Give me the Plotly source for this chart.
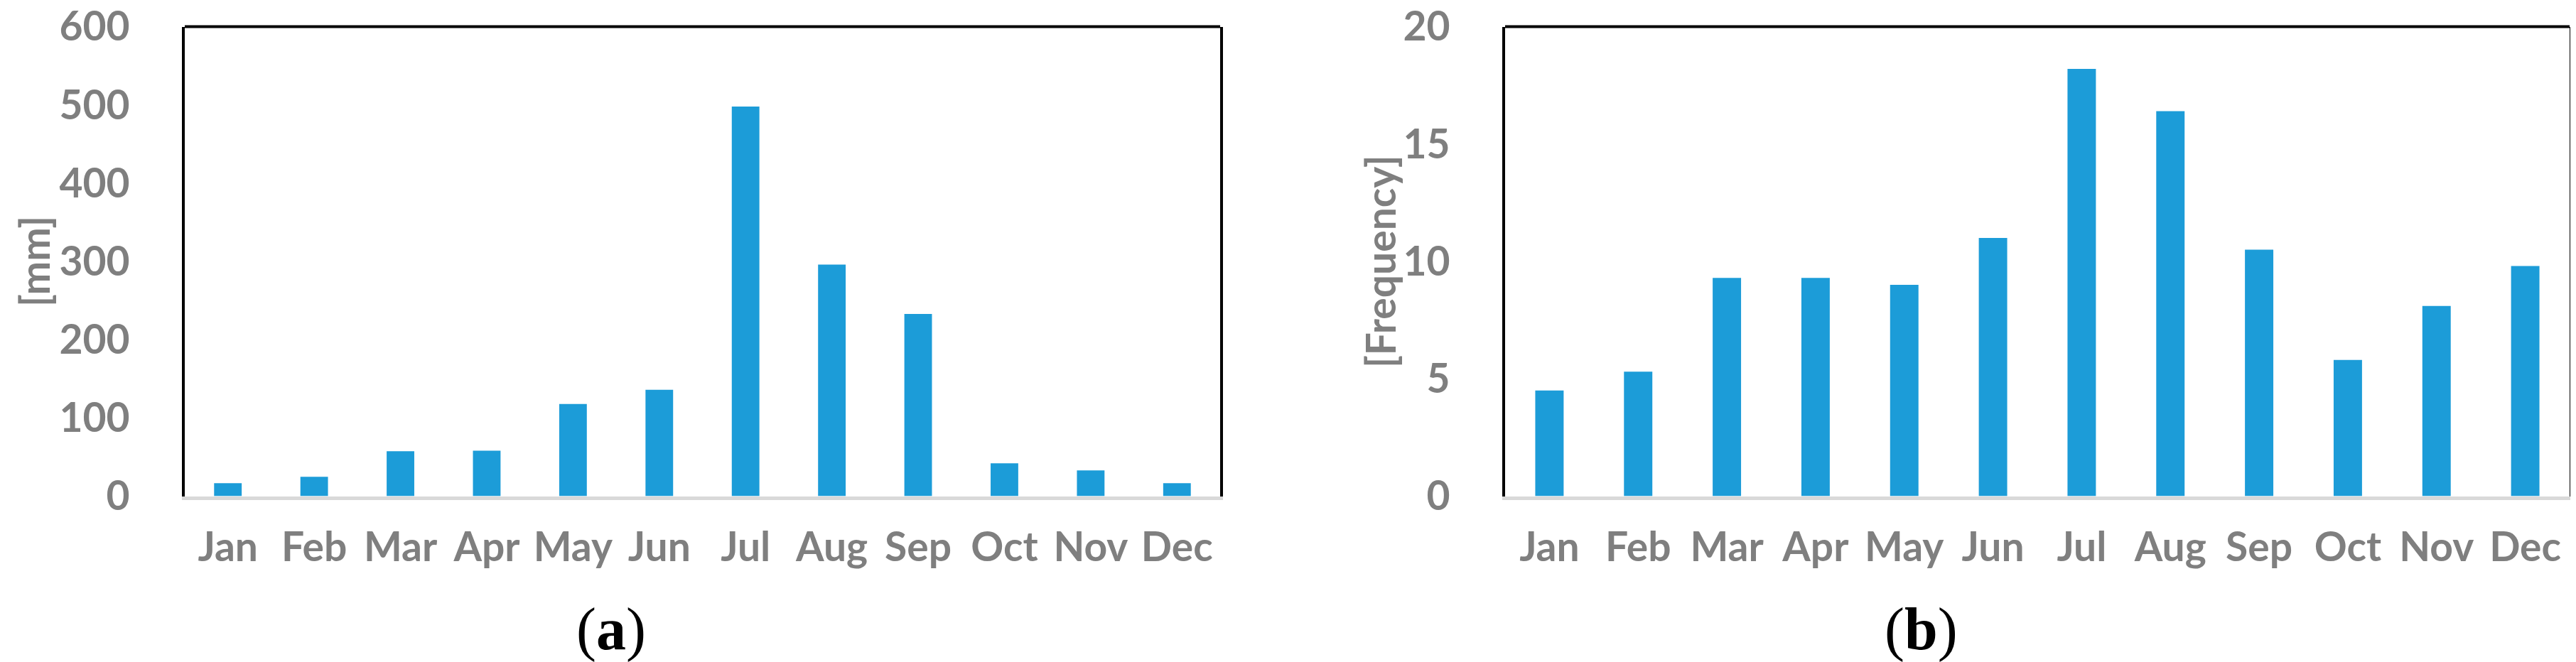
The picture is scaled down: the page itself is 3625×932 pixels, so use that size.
import plotly.graph_objects as go
from plotly.subplots import make_subplots

months = ['Jan', 'Feb', 'Mar', 'Apr', 'May', 'Jun', 'Jul', 'Aug', 'Sep', 'Oct', 'Nov', 'Dec']
rain_mm = [16.5, 24.7, 57.5, 58, 117.7, 136, 497.8, 296, 232.8, 41.9, 32.8, 16.5]
freq = [4.5, 5.3, 9.3, 9.3, 9.0, 11.0, 18.2, 16.4, 10.5, 5.8, 8.1, 9.8]

W, H = 3625, 932
bar_color = '#1C9CD8'
grey = '#7F7F7F'
tick_font = dict(family='Lato', size=57, color=grey, weight='bold')

fig = make_subplots(rows=1, cols=2)
fig.add_trace(go.Bar(x=months, y=rain_mm, marker_color=bar_color, marker_line_width=0), 1, 1)
fig.add_trace(go.Bar(x=months, y=freq, marker_color=bar_color, marker_line_width=0), 1, 2)

# plot areas (pixels), axis lines are drawn just outside them
y_dom = [1 - 690.5 / H, 1 - 29.5 / H]
fig.update_layout(
    width=W, height=H,
    margin=dict(l=0, r=0, t=0, b=0),
    paper_bgcolor='white', plot_bgcolor='white',
    showlegend=False, bargap=0.68,
    xaxis=dict(domain=[252 / W, 1709 / W]),
    xaxis2=dict(domain=[2110 / W, 3608 / W]),
    yaxis=dict(domain=y_dom, range=[0, 600], dtick=100),
    yaxis2=dict(domain=y_dom, range=[0, 20], dtick=5),
)
fig.update_xaxes(showline=True, linecolor='#D9D9D9', linewidth=5, showgrid=False,
                 ticks='', tickfont=tick_font, ticklabelstandoff=18, automargin=False)
fig.update_yaxes(showline=True, linecolor='black', linewidth=4, mirror=True, showgrid=False,
                 zeroline=False, ticks='', tickfont=tick_font, ticklabelstandoff=62,
                 ticklabeloverflow='allow', automargin=False)

# black top border of each panel
for xr, yr in [('x domain', 'y domain'), ('x2 domain', 'y2 domain')]:
    fig.add_shape(type='line', xref=xr, yref=yr, x0=0, x1=1, y0=1, y1=1,
                  line=dict(color='black', width=4))

# axis titles
for txt, xpx in [('[mm]', 40), ('[Frequency]', 1934)]:
    fig.add_annotation(text=txt, x=xpx / W, y=(y_dom[0] + y_dom[1]) / 2, xref='paper', yref='paper',
                       textangle=-90, showarrow=False, xanchor='center', yanchor='middle',
                       font=tick_font)

# panel labels
for txt, xpx in [('(<b>a</b>)', 852), ('(<b>b</b>)', 2695)]:
    fig.add_annotation(text=txt, x=xpx / W, y=1 - 878 / H, xref='paper', yref='paper',
                       showarrow=False, xanchor='center', yanchor='middle',
                       font=dict(family='Liberation Serif', size=84, color='black'))

fig.write_html("out.html")
